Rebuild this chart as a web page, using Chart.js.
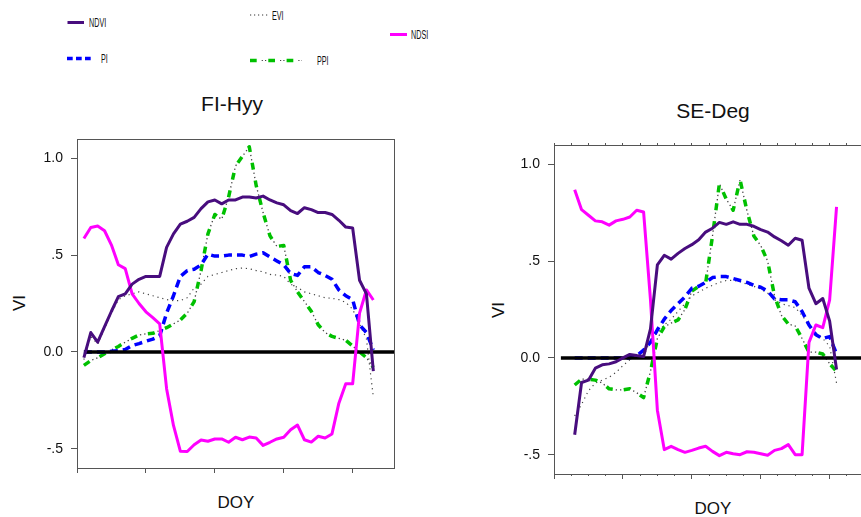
<!DOCTYPE html>
<html lang="en">
<head>
<meta charset="UTF-8">
<title>VI curves FI-Hyy / SE-Deg</title>
<script src="https://cdn.jsdelivr.net/npm/chart.js@4"></script>
<style>
    body { margin: 0; background: #fff; }
    #page { position: relative; width: 861px; height: 517px; overflow: hidden;
            font-family: 'Liberation Sans', Arial, sans-serif; color: #111; }
    canvas { position: absolute; top: 0; }
    #hyyChart { left: 0; }
    #degChart { left: 430px; }
    .txt { position: absolute; white-space: nowrap; }
    .leg { font-size: 12px; line-height: 12px; transform: scaleX(0.6); transform-origin: 0 50%; }
    .title { font-size: 21px; line-height: 21px; transform: translateX(-50%); }
    .axis { font-size: 17px; line-height: 17px; transform: translate(-50%, -50%); }
    .axis.vert { transform: translate(-50%, -50%) rotate(-90deg); }
    svg { position: absolute; overflow: visible; }
</style>
</head>
<body>
<div id="page">
    <!-- legend -->
    <svg style="left:67px;top:19px" width="18" height="7"><line x1="0.5" y1="3.5" x2="17" y2="3.5" stroke="#480d7e" stroke-width="3"/></svg>
    <div class="txt leg" style="left:89px;top:17px">NDVI</div>
    <svg style="left:250px;top:12px" width="18" height="6"><line x1="0" y1="3" x2="18" y2="3" stroke="#333" stroke-width="1.2" stroke-dasharray="1.2 2.8"/></svg>
    <div class="txt leg" style="left:272px;top:9.5px">EVI</div>
    <svg style="left:390px;top:31px" width="18" height="7"><line x1="0" y1="3.5" x2="17" y2="3.5" stroke="#ff00ff" stroke-width="3"/></svg>
    <div class="txt leg" style="left:411px;top:29px">NDSI</div>
    <svg style="left:67px;top:55px" width="24" height="7"><line x1="0" y1="3.5" x2="24" y2="3.5" stroke="#0000ff" stroke-width="3.5" stroke-dasharray="5.7 3.3"/></svg>
    <div class="txt leg" style="left:101px;top:53px">PI</div>
    <svg style="left:250px;top:56.5px" width="52" height="7">
        <line x1="0" y1="3.5" x2="52" y2="3.5" stroke="#00c000" stroke-width="3.5" stroke-dasharray="6.7 11.6"/>
        <line x1="0" y1="3.5" x2="52" y2="3.5" stroke="#444" stroke-width="1.2" stroke-dasharray="1.2 2.1 1.2 13.8" stroke-dashoffset="6.6"/>
    </svg>
    <div class="txt leg" style="left:317px;top:54.5px">PPI</div>

    <div class="txt title" style="left:232px;top:93px">FI-Hyy</div>
    <div class="txt title" style="left:713px;top:100px">SE-Deg</div>
    <div class="txt axis vert" style="left:19px;top:303px">VI</div>
    <div class="txt axis vert" style="left:498px;top:310px">VI</div>
    <div class="txt axis" style="left:236px;top:502px">DOY</div>
    <div class="txt axis" style="left:713px;top:508px">DOY</div>

    <canvas id="hyyChart" width="430" height="517"></canvas>
    <canvas id="degChart" width="445" height="517"></canvas>
</div>
<script>
    // composite periods (8-day steps), x axis has no tick labels
    const hyyPeriod = [1, 2, 3, 4, 5, 6, 7, 8, 9, 10, 11, 12, 13, 14, 15, 16, 17, 18, 19, 20, 21, 22,
        23, 24, 25, 26, 27, 28, 29, 30, 31, 32, 33, 34, 35, 36, 37, 38, 39, 40, 41, 42, 43];
    const degPeriod = [3, 4, 5, 6, 7, 8, 9, 10, 11, 12, 13, 14, 15, 16, 17, 18, 19, 20, 21, 22,
        23, 24, 25, 26, 27, 28, 29, 30, 31, 32, 33, 34, 35, 36, 37, 38, 39, 40, 41];

    // FI-Hyy
    const hyyNDVI = [-0.03, 0.10, 0.05, 0.13, 0.21, 0.285, 0.30, 0.35, 0.375, 0.39, 0.39, 0.39, 0.54, 0.61, 0.66,
        0.675, 0.695, 0.74, 0.775, 0.785, 0.765, 0.785, 0.785, 0.80, 0.80, 0.795, 0.805, 0.785, 0.77, 0.76, 0.73,
        0.715, 0.745, 0.735, 0.72, 0.72, 0.71, 0.68, 0.645, 0.64, 0.37, 0.30, -0.10];
    const hyyEVI = [-0.04, 0.08, 0.04, 0.12, 0.20, 0.27, 0.29, 0.30, 0.31, 0.30, 0.29, 0.28, 0.27, 0.265, 0.265,
        0.28, 0.33, 0.35, 0.39, 0.40, 0.41, 0.42, 0.43, 0.433, 0.43, 0.42, 0.414, 0.40, 0.397, 0.39, 0.35,
        0.333, 0.31, 0.30, 0.29, 0.28, 0.277, 0.27, 0.256, 0.22, 0.144, 0.067, -0.234];
    const hyyNDSI = [0.586, 0.643, 0.65, 0.626, 0.552, 0.45, 0.43, 0.30, 0.25, 0.207, 0.177, 0.145, -0.19, -0.38,
        -0.514, -0.515, -0.48, -0.455, -0.462, -0.45, -0.45, -0.467, -0.441, -0.454, -0.44, -0.445, -0.483,
        -0.467, -0.45, -0.441, -0.402, -0.378, -0.454, -0.466, -0.436, -0.445, -0.424, -0.265, -0.165, -0.165,
        0.20, 0.32, 0.268];
    const hyyPI = [0, 0, 0, 0, 0.003, 0.006, 0.012, 0.033, 0.043, 0.055, 0.066, 0.083, 0.20, 0.29, 0.39, 0.42,
        0.427, 0.45, 0.505, 0.495, 0.495, 0.50, 0.50, 0.50, 0.493, 0.505, 0.512, 0.49, 0.47, 0.45, 0.405, 0.395,
        0.44, 0.44, 0.41, 0.395, 0.375, 0.32, 0.29, 0.27, 0.14, 0.10, 0.01];
    const hyyPPI = [-0.07, -0.045, -0.03, -0.01, 0.01, 0.028, 0.05, 0.07, 0.087, 0.093, 0.096, 0.11, 0.125, 0.145,
        0.165, 0.20, 0.26, 0.42, 0.61, 0.71, 0.685, 0.80, 0.96, 1.01, 1.06, 0.86, 0.72, 0.60, 0.545, 0.55, 0.37,
        0.31, 0.26, 0.21, 0.14, 0.10, 0.08, 0.07, 0.06, 0.03, 0.0, -0.03, -0.08];

    // SE-Deg
    const degNDVI = [-0.397, -0.127, -0.115, -0.053, -0.036, -0.031, -0.02, 0.0, 0.018, 0.012, 0.007, 0.15, 0.48,
        0.53, 0.51, 0.54, 0.565, 0.585, 0.61, 0.65, 0.67, 0.70, 0.69, 0.703, 0.69, 0.69, 0.68, 0.663, 0.65, 0.625,
        0.605, 0.582, 0.618, 0.608, 0.36, 0.28, 0.307, 0.19, -0.06];
    const degEVI = [-0.30, -0.24, -0.17, -0.13, -0.115, -0.10, -0.075, -0.04, -0.01, 0.005, 0.01, 0.09, 0.13,
        0.17, 0.20, 0.24, 0.28, 0.32, 0.34, 0.36, 0.375, 0.39, 0.40, 0.40, 0.395, 0.38, 0.37, 0.355, 0.335, 0.30,
        0.28, 0.27, 0.26, 0.22, 0.17, 0.13, 0.10, 0.06, -0.13];
    const degNDSI = [0.869, 0.766, 0.737, 0.708, 0.703, 0.686, 0.708, 0.716, 0.728, 0.763, 0.754, 0.30, -0.27,
        -0.474, -0.457, -0.474, -0.488, -0.478, -0.466, -0.457, -0.483, -0.505, -0.488, -0.495, -0.50, -0.485,
        -0.488, -0.495, -0.503, -0.478, -0.469, -0.448, -0.50, -0.50, 0.08, 0.17, 0.156, 0.30, 0.78];
    const degPI = [0, 0, 0, 0, 0, 0, 0, 0, 0, 0.01, 0.04, 0.08, 0.145, 0.20, 0.245, 0.28, 0.315, 0.36, 0.37, 0.39,
        0.415, 0.42, 0.42, 0.41, 0.40, 0.39, 0.375, 0.365, 0.345, 0.305, 0.30, 0.30, 0.29, 0.24, 0.17, 0.12,
        0.10, 0.11, 0.02];
    const degPPI = [-0.14, -0.11, -0.11, -0.115, -0.13, -0.16, -0.165, -0.165, -0.16, -0.18, -0.205, -0.07, 0.10,
        0.16, 0.18, 0.196, 0.25, 0.345, 0.37, 0.385, 0.63, 0.90, 0.82, 0.763, 0.92, 0.76, 0.63, 0.58, 0.50, 0.32,
        0.22, 0.175, 0.165, 0.10, 0.03, 0.03, 0.02, -0.03, -0.07];

    // zero reference line
    const zeroSpan = [1, 46];
    const zeroLevel = [0, 0];

    // axes
    const xRange = [0, 46];
    const yRange = [-0.6, 1.1];
    const xMajorTicks = [0, 10, 20, 30, 40];
    const xMinorTicks = [0, 2.5, 5, 7.5, 10, 12.5, 15, 17.5, 20, 22.5, 25, 27.5, 30, 32.5, 35, 37.5, 40, 42.5, 45];
    const yTickValues = [-0.5, 0, 0.5, 1.0];
    const yTickLabels = ['-.5', '0.0', '.5', '1.0'];

    Chart.defaults.font.family = "'Liberation Sans', Arial, sans-serif";

    const styles = {
        NDVI: { borderColor: '#480d7e', borderWidth: 3, order: 0 },
        NDSI: { borderColor: '#ff00ff', borderWidth: 3, order: 1 },
        zero: { borderColor: '#000', borderWidth: 3.5, order: 2 },
        PI: { borderColor: '#0000ff', borderWidth: 3.5, borderDash: [8, 5], order: 3 },
        PPI: { borderColor: '#00c000', borderWidth: 3.5, borderDash: [7, 11], order: 4 },
        PPIdots: { borderColor: '#444', borderWidth: 1.3, borderDash: [1.3, 3, 1.3, 12.4], borderDashOffset: 8, order: 5 },
        EVI: { borderColor: '#444', borderWidth: 1.2, borderDash: [1.2, 3.8], order: 6 }
    };

    function lineSet(label, xs, ys, style) {
        return Object.assign({
            label: label,
            data: xs.map((x, i) => ({ x: x, y: ys[i] })),
            pointRadius: 0,
            tension: 0,
            fill: false,
            borderJoinStyle: 'round'
        }, style);
    }

    const framePlugin = {
        id: 'frame',
        beforeDatasetsDraw(chart) {
            const { ctx, chartArea: a } = chart;
            ctx.save();
            ctx.strokeStyle = '#555';
            ctx.lineWidth = 1;
            ctx.strokeRect(Math.round(a.left) + 0.5, Math.round(a.top) + 0.5, Math.round(a.width), Math.round(a.height));
            ctx.restore();
        }
    };

    function xAxis(position, tickValues, tickLength) {
        return {
            type: 'linear', axis: 'x', position: position,
            min: xRange[0], max: xRange[1],
            afterFit: s => { s.height = 0; },
            afterBuildTicks: s => { s.ticks = tickValues.map(v => ({ value: v })); },
            ticks: { display: false },
            grid: { drawOnChartArea: false, tickLength: tickLength, color: '#555' },
            border: { display: false }
        };
    }

    function buildPanel(canvasId, period, s, yAxisWidth, padding, minorTicks) {
        const datasets = [
            lineSet('NDVI', period, s.ndvi, styles.NDVI),
            lineSet('NDSI', period, s.ndsi, styles.NDSI),
            lineSet('zero', zeroSpan, zeroLevel, styles.zero),
            lineSet('PI', period, s.pi, styles.PI),
            lineSet('PPI', period, s.ppi, styles.PPI),
            lineSet('PPI dots', period, s.ppi, styles.PPIdots),
            lineSet('EVI', period, s.evi, styles.EVI)
        ];
        const scales = {
            x: xAxis('bottom', xMajorTicks, 5),
            y: {
                type: 'linear', min: yRange[0], max: yRange[1],
                afterFit: sc => { sc.width = yAxisWidth; },
                afterBuildTicks: sc => { sc.ticks = yTickValues.map(v => ({ value: v })); },
                ticks: {
                    callback: v => yTickLabels[yTickValues.indexOf(v)],
                    font: { size: 14 }, color: '#111', padding: 8
                },
                grid: { drawOnChartArea: false, tickLength: 6, color: '#555' },
                border: { display: false }
            }
        };
        if (minorTicks) {
            scales.xMinor = xAxis('bottom', xMinorTicks, 2);
            scales.xTop = xAxis('top', xMinorTicks, 2);
        }
        return new Chart(document.getElementById(canvasId), {
            type: 'line',
            data: { datasets: datasets },
            options: {
                responsive: false,
                animation: false,
                events: [],
                layout: { padding: padding },
                plugins: { legend: { display: false }, tooltip: { enabled: false }, title: { display: false } },
                scales: scales
            },
            plugins: [framePlugin]
        });
    }

    buildPanel('hyyChart', hyyPeriod,
        { ndvi: hyyNDVI, evi: hyyEVI, ndsi: hyyNDSI, pi: hyyPI, ppi: hyyPPI },
        77, { left: 0, top: 139, right: 36, bottom: 49 }, false);

    buildPanel('degChart', degPeriod,
        { ndvi: degNDVI, evi: degEVI, ndsi: degNDSI, pi: degPI, ppi: degPPI },
        124, { left: 0, top: 145, right: 4, bottom: 43 }, true);
</script>
</body>
</html>
